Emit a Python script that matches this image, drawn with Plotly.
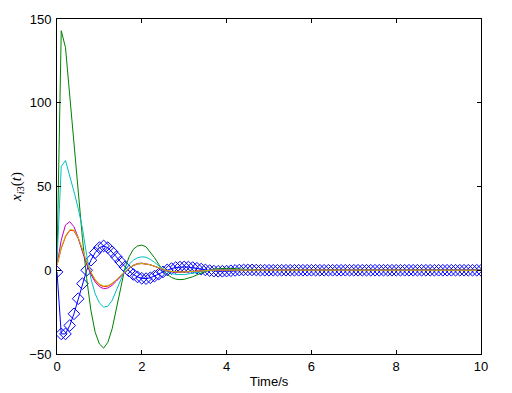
import numpy as np
import plotly.graph_objects as go

time = np.linspace(0, 10, 101)

blue = [
    -1, -38, -38, -33, -26, -17, -8, 0, 6, 10.5,
    13.5, 14.5, 13.5, 11, 8, 5, 2, -0.5, -2.5, -4,
    -4.8, -5, -4.5, -3.5, -2.3, -1, 0.2, 1, 1.6, 1.9,
    2, 1.9, 1.6, 1.2, 0.7, 0.2, -0.2, -0.5, -0.6, -0.6,
    -0.5, -0.3, -0.1, 0.1, 0.2, 0.2, 0.2, 0.1, 0, 0,
    0, 0, 0, 0, 0, 0, 0, 0, 0, 0,
    0, 0, 0, 0, 0, 0, 0, 0, 0, 0,
    0, 0, 0, 0, 0, 0, 0, 0, 0, 0,
    0, 0, 0, 0, 0, 0, 0, 0, 0, 0,
    0, 0, 0, 0, 0, 0, 0, 0, 0, 0,
    0,
]

green = [
    5, 143, 133, 104, 75, 45, 19, -5, -24, -37,
    -44, -46.5, -43, -35, -23, -10, 1, 8, 12.5, 14.5,
    15, 14, 11, 7.5, 3.5, 0, -2.5, -4.3, -5.3, -5.6,
    -5.4, -4.8, -3.9, -2.8, -1.7, -0.7, 0.1, 0.7, 1.0, 1.2,
    1.2, 1.1, 0.9, 0.6, 0.4, 0.2, 0, -0.1, -0.2, -0.2,
    -0.2, -0.1, -0.1, 0, 0, 0, 0, 0, 0, 0,
    0, 0, 0, 0, 0, 0, 0, 0, 0, 0,
    0, 0, 0, 0, 0, 0, 0, 0, 0, 0,
    0, 0, 0, 0, 0, 0, 0, 0, 0, 0,
    0, 0, 0, 0, 0, 0, 0, 0, 0, 0,
    0,
]

red = [
    3, 13, 20, 23.8, 23.6, 19, 12, 4.5, -1.5, -6,
    -8.7, -9.8, -9.5, -8, -5.7, -3.2, -0.8, 1.3, 2.8, 3.7,
    4, 3.8, 3.2, 2.3, 1.3, 0.4, -0.3, -0.8, -1.0, -1.1,
    -1.0, -0.8, -0.6, -0.4, -0.2, 0, 0.1, 0.2, 0.2, 0.1,
    0.1, 0, 0, 0, 0, 0, 0, 0, 0, 0,
    0, 0, 0, 0, 0, 0, 0, 0, 0, 0,
    0, 0, 0, 0, 0, 0, 0, 0, 0, 0,
    0, 0, 0, 0, 0, 0, 0, 0, 0, 0,
    0, 0, 0, 0, 0, 0, 0, 0, 0, 0,
    0, 0, 0, 0, 0, 0, 0, 0, 0, 0,
    0,
]

cyan = [
    5, 62, 65.5, 57, 47, 37, 25, 9, -5, -14,
    -19.5, -22, -21.5, -18, -12, -5.5, 0, 3.5, 6, 7.5,
    8, 7.8, 6.5, 4.7, 2.6, 0.7, -0.8, -1.9, -2.5, -2.7,
    -2.6, -2.2, -1.7, -1.2, -0.7, -0.2, 0.2, 0.4, 0.5, 0.6,
    0.5, 0.4, 0.3, 0.2, 0.1, 0, 0, 0, 0, 0,
    0, 0, 0, 0, 0, 0, 0, 0, 0, 0,
    0, 0, 0, 0, 0, 0, 0, 0, 0, 0,
    0, 0, 0, 0, 0, 0, 0, 0, 0, 0,
    0, 0, 0, 0, 0, 0, 0, 0, 0, 0,
    0, 0, 0, 0, 0, 0, 0, 0, 0, 0,
    0,
]

magenta = [
    3, 18, 27, 29, 26, 19.5, 11, 3.5, -2.5, -7,
    -9.8, -11, -10.6, -9, -6.5, -3.7, -1, 1.4, 3, 4,
    4.3, 4, 3.3, 2.4, 1.3, 0.3, -0.5, -1, -1.2, -1.2,
    -1.1, -0.9, -0.7, -0.4, -0.2, 0, 0.1, 0.2, 0.2, 0.2,
    0.1, 0.1, 0, 0, 0, 0, 0, 0, 0, 0,
    0, 0, 0, 0, 0, 0, 0, 0, 0, 0,
    0, 0, 0, 0, 0, 0, 0, 0, 0, 0,
    0, 0, 0, 0, 0, 0, 0, 0, 0, 0,
    0, 0, 0, 0, 0, 0, 0, 0, 0, 0,
    0, 0, 0, 0, 0, 0, 0, 0, 0, 0,
    0,
]

yellow = [
    3, 13.5, 20.5, 24.2, 24, 19.5, 12.5, 5, -1, -5.5,
    -8.2, -9.4, -9.2, -7.8, -5.6, -3.1, -0.7, 1.4, 2.9, 3.8,
    4.1, 3.9, 3.3, 2.4, 1.4, 0.5, -0.2, -0.7, -1.0, -1.1,
    -1.0, -0.8, -0.6, -0.4, -0.2, 0, 0.1, 0.2, 0.2, 0.1,
    0.1, 0, 0, 0, 0, 0, 0, 0, 0, 0,
    0, 0, 0, 0, 0, 0, 0, 0, 0, 0,
    0, 0, 0, 0, 0, 0, 0, 0, 0, 0,
    0, 0, 0, 0, 0, 0, 0, 0, 0, 0,
    0, 0, 0, 0, 0, 0, 0, 0, 0, 0,
    0, 0, 0, 0, 0, 0, 0, 0, 0, 0,
    0,
]

x_ticks = [0, 2, 4, 6, 8, 10]
y_ticks = [-50, 0, 50, 100, 150]

fig = go.Figure()

fig.add_trace(go.Scatter(
    x=time, y=blue, mode="lines+markers",
    line=dict(color="rgb(0,0,255)", width=1),
    marker=dict(symbol="diamond-open", size=9, color="rgb(0,0,255)",
                line=dict(width=1, color="rgb(0,0,255)")),
))
line_series = [
    (green, "rgb(0,128,0)"),
    (red, "rgb(255,0,0)"),
    (cyan, "rgb(0,191,191)"),
    (magenta, "rgb(191,0,191)"),
    (yellow, "rgb(191,191,0)"),
]
for vals, col in line_series:
    fig.add_trace(go.Scatter(x=time, y=vals, mode="lines",
                             line=dict(color=col, width=1)))

axis_common = dict(
    showline=True, linecolor="black", linewidth=1, mirror="ticks",
    ticks="inside", ticklen=4, tickcolor="black", tickwidth=1,
    showgrid=False, zeroline=False, automargin=False,
    tickfont=dict(family="Liberation Sans, Arial, sans-serif", size=13, color="black"),
)

fig.update_xaxes(range=[0, 10], tickvals=x_ticks,
                 title=dict(text="Time/s", standoff=4,
                            font=dict(family="Liberation Sans, Arial, sans-serif", size=13, color="black")),
                 **axis_common)
fig.update_yaxes(range=[-50, 150], tickvals=y_ticks, ticklabelstandoff=2,
                 title=dict(text="<i>x</i><sub><i>i</i>3</sub>(<i>t</i>)", standoff=4,
                            font=dict(family="Liberation Serif, Times New Roman, serif", size=15, color="black")),
                 **axis_common)

# the page body has an 8px margin, so the figure is sized/offset to compensate
fig.update_layout(
    width=504, height=385,
    margin=dict(l=49, r=31, t=11, b=39),
    paper_bgcolor="white", plot_bgcolor="white",
    showlegend=False,
)

fig.write_html("out.html")
